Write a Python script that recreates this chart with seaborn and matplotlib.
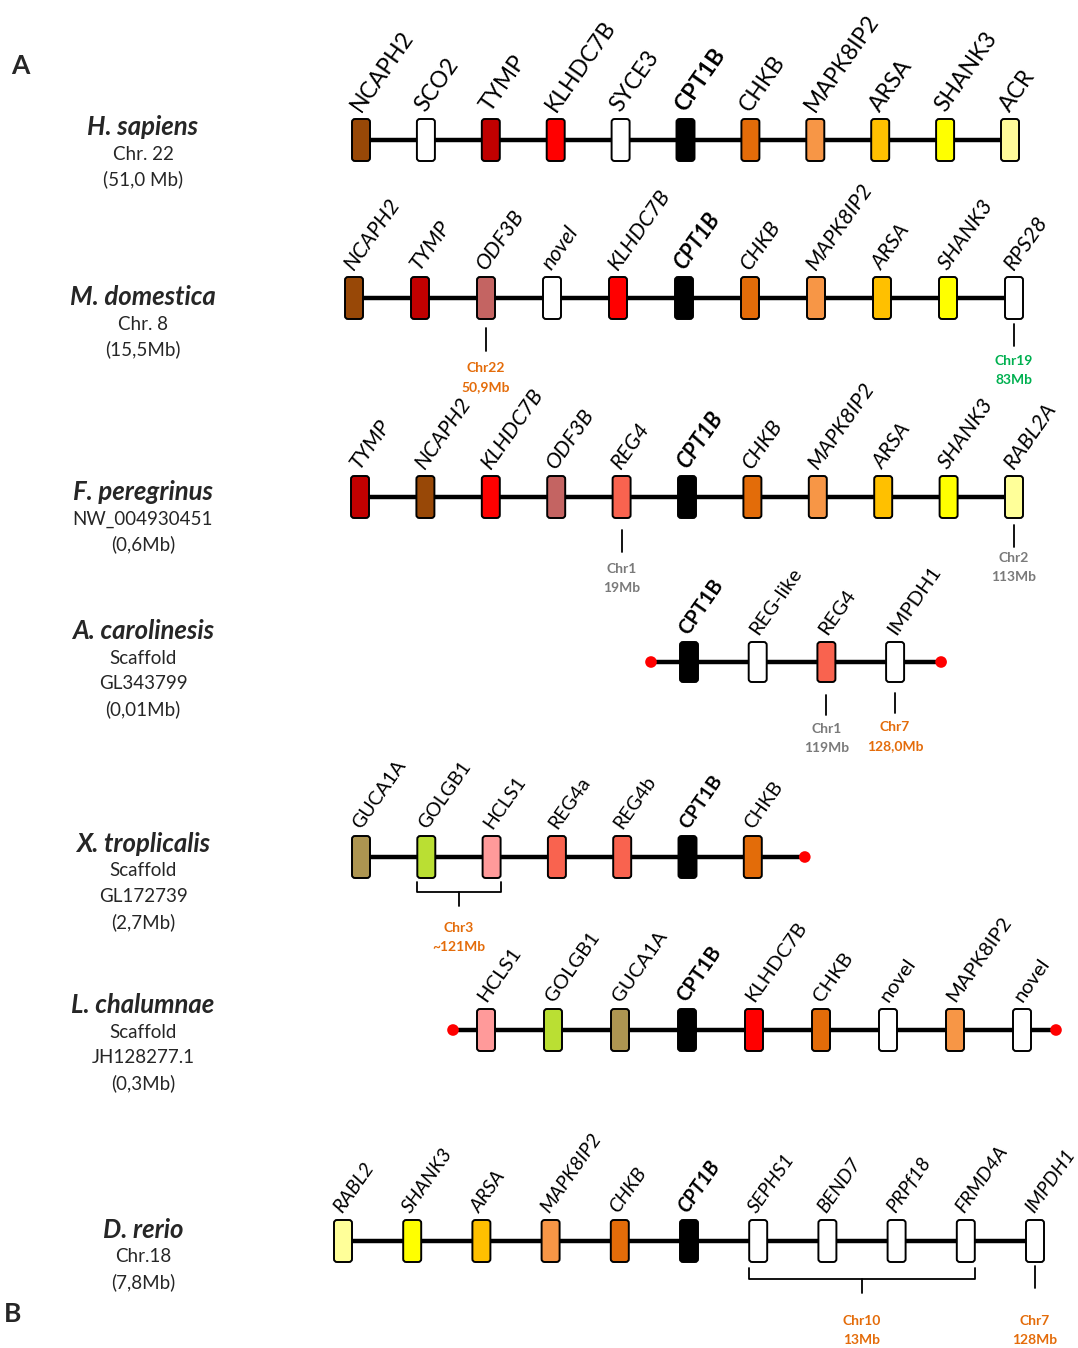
import matplotlib
matplotlib.use("Agg")
import matplotlib.pyplot as plt
from matplotlib.patches import FancyBboxPatch
import seaborn as sns

# ---------------- data ----------------
species = ["H. sapiens", "M. domestica", "F. peregrinus", "A. carolinesis",
           "X. troplicalis", "L. chalumnae", "D. rerio"]
species_info = [
    ["Chr. 22", "(51,0 Mb)"],
    ["Chr. 8", "(15,5Mb)"],
    ["NW_004930451", "(0,6Mb)"],
    ["Scaffold", "GL343799", "(0,01Mb)"],
    ["Scaffold", "GL172739", "(2,7Mb)"],
    ["Scaffold", "JH128277.1", "(0,3Mb)"],
    ["Chr.18", "(7,8Mb)"],
]

genes_hsa = ["NCAPH2", "SCO2", "TYMP", "KLHDC7B", "SYCE3", "CPT1B", "CHKB",
             "MAPK8IP2", "ARSA", "SHANK3", "ACR"]
genes_mdo = ["NCAPH2", "TYMP", "ODF3B", "novel", "KLHDC7B", "CPT1B", "CHKB",
             "MAPK8IP2", "ARSA", "SHANK3", "RPS28"]
genes_fpe = ["TYMP", "NCAPH2", "KLHDC7B", "ODF3B", "REG4", "CPT1B", "CHKB",
             "MAPK8IP2", "ARSA", "SHANK3", "RABL2A"]
genes_aca = ["CPT1B", "REG-like", "REG4", "IMPDH1"]
genes_xtr = ["GUCA1A", "GOLGB1", "HCLS1", "REG4a", "REG4b", "CPT1B", "CHKB"]
genes_lch = ["HCLS1", "GOLGB1", "GUCA1A", "CPT1B", "KLHDC7B", "CHKB", "novel",
             "MAPK8IP2", "novel"]
genes_dre = ["RABL2", "SHANK3", "ARSA", "MAPK8IP2", "CHKB", "CPT1B", "SEPHS1",
             "BEND7", "PRPf18", "FRMD4A", "IMPDH1"]
gene_rows = [genes_hsa, genes_mdo, genes_fpe, genes_aca, genes_xtr, genes_lch, genes_dre]

# scaffold ends shown as red dots: (left end, right end)
scaffold_ends = [(False, False), (False, False), (False, False), (True, True),
                 (False, True), (True, True), (False, False)]

# chromosome locations elsewhere: (row, first gene idx, last gene idx, line1, line2, colour)
relocations = [
    (1, 2, 2, "Chr22", "50,9Mb", "orange"),
    (1, 10, 10, "Chr19", "83Mb", "green"),
    (2, 4, 4, "Chr1", "19Mb", "grey"),
    (2, 10, 10, "Chr2", "113Mb", "grey"),
    (3, 2, 2, "Chr1", "119Mb", "grey"),
    (3, 3, 3, "Chr7", "128,0Mb", "orange"),
    (4, 1, 2, "Chr3", "~121Mb", "orange"),
    (6, 6, 9, "Chr10", "13Mb", "orange"),
    (6, 10, 10, "Chr7", "128Mb", "orange"),
]

# ---------------- styles / layout ----------------
gene_colors = {
    "NCAPH2": "#984807", "TYMP": "#C00000", "KLHDC7B": "#FF0000",
    "CPT1B": "#000000", "CHKB": "#E36C09", "MAPK8IP2": "#F79646",
    "ARSA": "#FFC000", "SHANK3": "#FFFF00", "ACR": "#FFFA99",
    "RABL2A": "#FFFF99", "RABL2": "#FFFF99", "ODF3B": "#C46462",
    "REG4": "#F9634F", "REG4a": "#F9634F", "REG4b": "#F9634F",
    "GUCA1A": "#AD9551", "GOLGB1": "#BADF33", "HCLS1": "#FF9A9A",
}
text_colors = {"orange": "#E46C0A", "green": "#00B050", "grey": "#7A7A7A"}

row_y = [140, 298, 497, 662, 857, 1030, 1241]
row_x0 = [361, 354, 360, 689, 361, 486, 343]
row_step = [64.9, 66.0, 65.4, 68.7, 65.3, 67.0, 69.2]
row_end_gap = [(0, 0), (0, 0), (0, 0), (38, 46), (0, 52), (33, 34), (0, 0)]
row_label_size = [16.5, 15.5, 15.5, 14.5, 14, 14.5, 14.2]
row_label_italic = [False, True, True, False, False, False, True]
row_label_dx = [3, 3, 3, 3, 3, 3, 1]
row_box_h = [42, 42, 42, 40, 42, 42, 42]
species_y = [127, 297, 492, 631, 844, 1005, 1230]
# (connector start, connector end, text line 1) offsets below the chromosome line
reloc_offsets = {
    (1, 2): (30, 53, 70), (1, 10): (26, 48, 63),
    (2, 4): (33, 55, 72), (2, 10): (28, 50, 61),
    (3, 2): (33, 53, 67), (3, 3): (31, 51, 65),
    (4, 1): (25, 39, 71), (6, 6): (27, 42, 80), (6, 10): (25, 47, 80),
}

FONT = ["Lato", "DejaVu Sans"]
sns.set_theme(style="white")
plt.rcParams["font.family"] = FONT

fig = plt.figure(figsize=(10.78, 13.48), dpi=100)
ax = fig.add_axes([0, 0, 1, 1])

BOX_W = 18


def gene_x(r, i):
    return row_x0[r] + row_step[r] * i


for r, genes in enumerate(gene_rows):
    y = row_y[r]
    xs = [gene_x(r, i) for i in range(len(genes))]
    left = xs[0] - row_end_gap[r][0]
    right = xs[-1] + row_end_gap[r][1]
    sns.lineplot(x=[left, right], y=[y, y], color="black", lw=3.2, ax=ax,
                 zorder=1, estimator=None, sort=False)
    ends_x, ends_y = [], []
    if scaffold_ends[r][0]:
        ends_x.append(left); ends_y.append(y)
    if scaffold_ends[r][1]:
        ends_x.append(right); ends_y.append(y)
    if ends_x:
        sns.scatterplot(x=ends_x, y=ends_y, color="#FF0000", s=70,
                        edgecolor="none", ax=ax, zorder=3)
    h = row_box_h[r]
    for x, g in zip(xs, genes):
        box = FancyBboxPatch((x - BOX_W / 2, y - h / 2), BOX_W, h,
                             boxstyle="round,pad=0,rounding_size=3",
                             facecolor=gene_colors.get(g, "white"),
                             edgecolor="black", lw=1.4, zorder=2)
        ax.add_patch(box)
        bold = g == "CPT1B"
        ax.text(x + row_label_dx[r], y - h / 2 - 4, g, rotation=55,
                rotation_mode="anchor", ha="left", va="bottom",
                fontsize=row_label_size[r],
                fontweight="bold" if bold else "normal",
                fontstyle="italic" if row_label_italic[r] else "normal",
                color="black")

# species descriptions on the left
for name, info, y in zip(species, species_info, species_y):
    ax.text(143, y, name, ha="center", va="center", fontsize=18.5,
            fontweight="bold", fontstyle="italic")
    for k, line in enumerate(info):
        ax.text(143, y + 27 + 25.5 * k, line, ha="center", va="center",
                fontsize=13.5)

# relocated genes: connector or bracket, then location text
for (r, a, b, t1, t2, col) in relocations:
    y = row_y[r]
    c0, c1, t0 = reloc_offsets[(r, a)]
    xa, xb = gene_x(r, a), gene_x(r, b)
    xc = (xa + xb) / 2
    if a == b:
        ax.plot([xa, xa], [y + c0, y + c1], color="black", lw=1.3)
    else:
        xa -= 9
        xb += 9
        ax.plot([xa, xa, xb, xb], [y + c0, y + c1 - 4, y + c1 - 4, y + c0],
                color="black", lw=1.3)
        ax.plot([xc, xc], [y + c1 - 4, y + c1 + 10], color="black", lw=1.3)
    ax.text(xc, y + t0, t1, ha="center", va="center", fontsize=10,
            fontweight="bold", color=text_colors[col])
    ax.text(xc, y + t0 + 19, t2, ha="center", va="center", fontsize=10,
            fontweight="bold", color=text_colors[col])

ax.text(20, 66, "A", ha="center", va="center", fontsize=19, fontweight="bold")
ax.text(13, 1314, "B", ha="center", va="center", fontsize=19, fontweight="bold")

ax.set_xlim(0, 1078)
ax.set_ylim(1348, 0)
ax.axis("off")
fig.savefig("out.png", dpi=100, facecolor="white")
